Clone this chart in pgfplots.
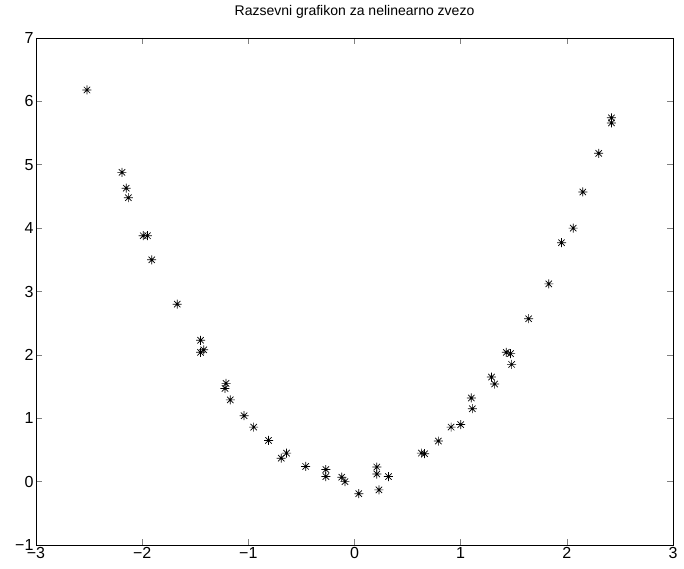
\documentclass[border=0pt]{standalone}
\usepackage{fontspec}
\setmainfont{Liberation Sans}
\usepackage{pgfplots}
\pgfplotsset{compat=1.18}

% MATLAB-style eight-armed asterisk
\pgfdeclareplotmark{mstar}{%
  \pgfpathmoveto{\pgfqpoint{-\pgfplotmarksize}{0pt}}%
  \pgfpathlineto{\pgfqpoint{\pgfplotmarksize}{0pt}}%
  \pgfpathmoveto{\pgfqpoint{0pt}{-\pgfplotmarksize}}%
  \pgfpathlineto{\pgfqpoint{0pt}{\pgfplotmarksize}}%
  \pgfpathmoveto{\pgfqpoint{-0.707\pgfplotmarksize}{-0.707\pgfplotmarksize}}%
  \pgfpathlineto{\pgfqpoint{0.707\pgfplotmarksize}{0.707\pgfplotmarksize}}%
  \pgfpathmoveto{\pgfqpoint{-0.707\pgfplotmarksize}{0.707\pgfplotmarksize}}%
  \pgfpathlineto{\pgfqpoint{0.707\pgfplotmarksize}{-0.707\pgfplotmarksize}}%
  \pgfusepathqstroke}

\begin{document}
\begin{tikzpicture}
\begin{axis}[
    scale only axis,
    width=637pt, height=507pt,
    xmin=-3, xmax=3, ymin=-1, ymax=7,
    xtick={-3,...,3}, ytick={-1,...,7},
    xticklabels={−3,−2,−1,0,1,2,3},
    yticklabels={−1,0,1,2,3,4,5,6,7},
    tick align=inside,
    major tick length=6pt,
    tick style={line width=0.6pt},
    axis line style={line width=0.8pt},
    tick label style={font=\fontsize{16}{18}\selectfont},
    xticklabel style={yshift=1pt},
    yticklabel style={xshift=1pt},
    y tick label style={/utils/exec={}},
    title={Razsevni grafikon za nelinearno zvezo},
    title style={font=\fontsize{14}{16}\selectfont, at={(0.5,1)}, anchor=south, yshift=10pt},
]
\addplot[only marks, mark=mstar, mark size=4.5pt, line width=0.7pt, black] coordinates {
  (-2.52,6.18) (-2.19,4.88) (-2.15,4.63) (-2.13,4.48)
  (-1.99,3.88) (-1.95,3.88) (-1.91,3.50) (-1.67,2.80)
  (-1.45,2.23) (-1.42,2.08) (-1.45,2.04)
  (-1.21,1.55) (-1.22,1.47) (-1.17,1.29) (-1.04,1.04)
  (-0.95,0.86) (-0.81,0.65) (-0.69,0.37) (-0.64,0.45)
  (-0.46,0.24) (-0.27,0.19) (-0.27,0.08) (-0.12,0.07)
  (-0.09,0.00) (0.04,-0.19) (0.21,0.23) (0.21,0.12)
  (0.23,-0.13) (0.32,0.08) (0.63,0.45) (0.66,0.44)
  (0.79,0.64) (0.91,0.86) (1.00,0.90) (1.10,1.32)
  (1.11,1.15) (1.29,1.65) (1.32,1.54) (1.43,2.04)
  (1.47,2.02) (1.48,1.85) (1.64,2.57) (1.83,3.12)
  (1.95,3.77) (2.06,4.00) (2.15,4.57) (2.30,5.18)
  (2.42,5.74) (2.42,5.66)
};
\end{axis}
\path (current axis.south west) ++(-36pt,-24pt) coordinate (bbA);
\path (current axis.north east) ++(11pt,38pt) coordinate (bbB);
\useasboundingbox (bbA) rectangle (bbB);
\end{tikzpicture}
\end{document}
